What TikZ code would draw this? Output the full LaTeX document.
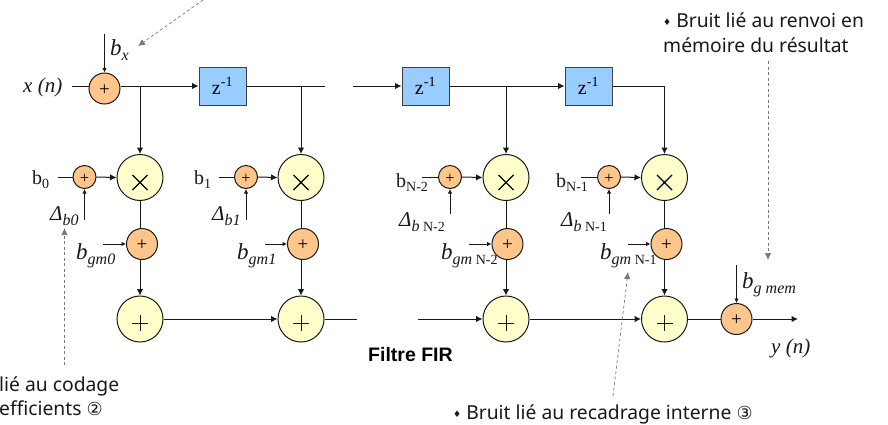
\documentclass[tikz,border=0pt]{standalone}
\usepackage{fontspec}
\setmainfont{Liberation Serif}
\newfontfamily\tah{Noto Sans}
\newfontfamily\arl{Liberation Sans}
\newfontfamily\djv{DejaVu Sans}
\usetikzlibrary{arrows.meta}
\definecolor{sumorange}{HTML}{FFC68C}
\definecolor{opyellow}{HTML}{FFFFCC}
\definecolor{delayblue}{HTML}{99CCFF}
\newcommand{\lab}[2]{{\fontsize{23}{23}\selectfont\itshape #1}{\fontsize{16}{16}\selectfont\raisebox{-5pt}{\itshape #2}}}
\newcommand{\coef}[2]{{\fontsize{20}{20}\selectfont #1}{\fontsize{14}{14}\selectfont\raisebox{-4pt}{#2}}}
\newcommand{\dlt}[2]{{\fontsize{21}{21}\selectfont\itshape #1}{\fontsize{16}{16}\selectfont\raisebox{-5pt}{#2}}}
\newcommand{\lowplus}[1]{\smash{\raisebox{#1}{+}}}
\tikzset{
  x=1pt,y=-1pt,
  adder/.style={circle,draw=black!90,line width=1pt,fill=sumorange,minimum size=31pt,inner sep=0pt,font=\fontsize{19}{19}\selectfont},
  smalladder/.style={adder,minimum size=23pt,font=\fontsize{16.5}{16.5}\selectfont},
  opnode/.style={circle,draw=black!90,line width=1pt,fill=opyellow,minimum size=46pt,inner sep=0pt},
  delay/.style={rectangle,draw=black!75,line width=1pt,fill=delayblue,minimum width=47pt,minimum height=38pt,inner sep=0pt,font=\fontsize{20}{20}\selectfont},
  wire/.style={line width=1pt,black!90,-{Latex[length=6.5pt,width=6.5pt]}},
  thinwire/.style={line width=0.8pt,black!90,-{Latex[length=4.5pt,width=4.5pt]}},
  plainwire/.style={line width=1pt,black!90},
  note/.style={gray!95!black,line width=0.7pt,dash pattern=on 3pt off 2.5pt,-{Latex[length=7pt,width=6.5pt]}},
  txt/.style={inner sep=0pt,anchor=base west,font=\tah\fontsize{19.3}{19.3}\selectfont,text=black!90},
  sym/.style={inner sep=0pt,anchor=center,text=black!90},
}
\newcommand{\opplus}{\tikz[x=1pt,y=1pt]{\path[use as bounding box] (-8,-8) rectangle (8,8);\draw[line width=0.9pt,black!90] (-8,-4)--(8,-4) (0,-12)--(0,4);}}
\newcommand{\optimes}{\tikz[x=1pt,y=1pt]{\path[use as bounding box] (-7.5,-7.5) rectangle (7.5,7.5);\draw[line width=1.1pt,black] (-7.5,-12.5)--(7.5,2.5) (-7.5,2.5)--(7.5,-12.5);}}
\begin{document}
\begin{tikzpicture}
\useasboundingbox (0,0) rectangle (888,424);
% top adder, delays
\node[adder] (a0) at (104.5,88.5) {\lowplus{-6.5pt}};
\node[delay] (z1) at (222.5,86) {z\textsuperscript{-1}};
\node[delay] (z2) at (425.5,86) {z\textsuperscript{-1}};
\node[delay] (z3) at (588.5,86) {z\textsuperscript{-1}};
% multipliers
\node[opnode] (m1) at (140,177.5) {\optimes};
\node[opnode] (m2) at (301,177.5) {\optimes};
\node[opnode] (m3) at (506,177.5) {\optimes};
\node[opnode] (m4) at (664.5,177.5) {\optimes};
% coefficient adders
\node[smalladder] (c1) at (84.5,177) {\lowplus{-6.8pt}};
\node[smalladder] (c2) at (246,177) {\lowplus{-6.8pt}};
\node[smalladder] (c3) at (450,177) {\lowplus{-6.8pt}};
\node[smalladder] (c4) at (609,177) {\lowplus{-6.8pt}};
% gm adders
\node[adder] (g1) at (142,244) {\lowplus{-6pt}};
\node[adder] (g2) at (303,244) {\lowplus{-6pt}};
\node[adder] (g3) at (507.5,244) {\lowplus{-6pt}};
\node[adder] (g4) at (666.5,244) {\lowplus{-6pt}};
% output sums
\node[opnode] (s1) at (140,319) {\opplus};
\node[opnode] (s2) at (301,319) {\opplus};
\node[opnode] (s3) at (506,319) {\opplus};
\node[opnode] (s4) at (664.5,319) {\opplus};
\node[adder] (a5) at (736.5,319) {\lowplus{-6.5pt}};
% labels
\node[sym,anchor=base west] (xn) at (23,92) {\fontsize{21}{21}\selectfont\itshape x (n)};
\node[sym,anchor=base west] (yn) at (771,353) {\fontsize{21}{21}\selectfont\itshape y (n)};
\node[sym,anchor=base west] (bx) at (110,55) {\lab{b}{x}};
\node[sym,anchor=base west] (l0) at (32,184) {\coef{b}{0}};
\node[sym,anchor=base west] (l1) at (194,184) {\coef{b}{1}};
\node[sym,anchor=base west] (l2) at (396,187) {\coef{b}{N-2}};
\node[sym,anchor=base west] (l3) at (556,187) {\coef{b}{N-1}};
\node[sym,anchor=base west] (d0) at (50,220) {\dlt{Δ}{\itshape b0}};
\node[sym,anchor=base west] (d1) at (212,220) {\dlt{Δ}{\itshape b1}};
\node[sym,anchor=base west] (d2) at (399,226) {\dlt{Δ}{\itshape b\fontsize{14}{14}\selectfont\upshape\ N-2}};
\node[sym,anchor=base west] (d3) at (561,226) {\dlt{Δ}{\itshape b\fontsize{14}{14}\selectfont\upshape\ N-1}};
\node[sym,anchor=base west] (g1l) at (76,259) {\lab{b}{gm0}};
\node[sym,anchor=base west] (g2l) at (237,259) {\lab{b}{gm1}};
\node[sym,anchor=base west] (g3l) at (441,259) {\lab{b}{gm{\fontsize{14}{14}\selectfont\upshape\ N-2}}};
\node[sym,anchor=base west] (g4l) at (600,259) {\lab{b}{gm{\fontsize{14}{14}\selectfont\upshape\ N-1}}};
\node[sym,anchor=base west] (gml) at (742,288) {\lab{b}{g mem}};
\node[inner sep=0pt,anchor=base west] (fir) at (368,361) {\arl\bfseries\fontsize{19.5}{19.5}\selectfont Filtre FIR};
\node[txt] (t1) at (663,27) {{\djv\fontsize{9}{9}\selectfont\raisebox{2pt}{♦}}\ Bruit lié au renvoi en};
\node[txt] (t2) at (663,52) {mémoire du résultat};
\node[txt] (t3) at (453,419) {{\djv\fontsize{9}{9}\selectfont\raisebox{2pt}{♦}}\ Bruit lié au recadrage interne {\djv\fontsize{18}{18}\selectfont ③}};
\node[txt] (t4) at (-1,391) {lié au codage};
\node[txt] (t5) at (-1,415) {efficients {\djv\fontsize{18}{18}\selectfont ②}};
% free ends
\coordinate (xs) at (72,86);
\coordinate (bxs) at (104.5,34);
\coordinate (tap1) at (140,86);
\coordinate (tap2) at (301,86);
\coordinate (tap3) at (506,86);
\coordinate (tap4) at (664.5,86);
\coordinate (gap1a) at (325,86);
\coordinate (gap1b) at (353,86);
\coordinate (gap2a) at (357,319);
\coordinate (gap2b) at (418,319);
\coordinate (out) at (798,319);
% top row
\draw[plainwire] (xs) -- (xs -| a0.west);
\draw[thinwire] (bxs) -- (a0.north);
\draw[wire] (xs -| a0.east) -- (z1.west);
\draw[plainwire] (z1.east) -- (gap1a);
\draw[wire] (gap1b) -- (z2.west);
\draw[wire] (z2.east) -- (z3.west);
\draw[plainwire] (z3.east) -- (tap4);
\foreach \tp/\mm in {tap1/m1,tap2/m2,tap3/m3,tap4/m4}{\draw[wire] (\tp) -- (\mm.north);}
% coefficients
\foreach \ll/\cc/\mm/\xa in {0/c1/m1/58,1/c2/m2/219,2/c3/m3/422,3/c4/m4/581}{
  \coordinate (cs\ll) at (\xa,177);
  \draw[plainwire] (cs\ll) -- (\cc.west);
  \draw[wire] (\cc.east) -- (\mm.west);
}
\foreach \cc/\xa/\yy/\nn in {c1/84.5/220/e1,c2/246/220/e2,c3/450/214/e3,c4/609/214/e4}{
  \coordinate (\nn) at (\xa,\yy);
  \draw[thinwire] (\nn) -- (\cc.south);
}
% gm branches
\foreach \mm/\ss/\gg/\xa in {m1/s1/g1/103,m2/s2/g2/265,m3/s3/g3/469,m4/s4/g4/628}{
  \draw[plainwire] (\mm.south) -- (\mm.south |- \gg.north);
  \draw[wire] (\mm.south |- \gg.south) -- (\ss.north);
  \coordinate (gs\gg) at (\xa,244);
  \draw[thinwire] (gs\gg) -- (\gg.west);
}
% output row
\draw[wire] (s1.east) -- (s2.west);
\draw[plainwire] (s2.east) -- (gap2a);
\draw[wire] (gap2b) -- (s3.west);
\draw[wire] (s3.east) -- (s4.west);
\draw[plainwire] (s4.east) -- (a5.west);
\draw[wire] (a5.east) -- (out);
\coordinate (gm) at (736.5,265);
\draw[thinwire] (gm) -- (a5.north);
% notes
\coordinate (n1a) at (203,0); \coordinate (n1b) at (138,46);
\coordinate (n2a) at (64.5,365); \coordinate (n2b) at (64.5,228);
\coordinate (n3a) at (613,396); \coordinate (n3b) at (628,272);
\coordinate (n4a) at (768,61); \coordinate (n4b) at (768,260);
\draw[note] (n1a) -- (n1b);
\draw[note] (n2a) -- (n2b);
\draw[note] (n3a) -- (n3b);
\draw[note] (n4a) -- (n4b);
\end{tikzpicture}
\end{document}
